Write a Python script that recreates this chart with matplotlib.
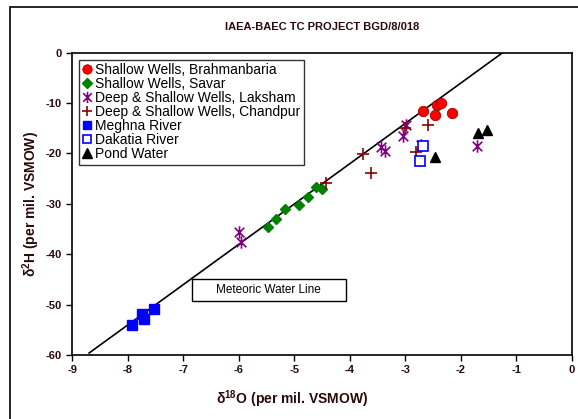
import matplotlib

matplotlib.use("Agg")
import matplotlib.pyplot as plt
from matplotlib.patches import Rectangle
from matplotlib.path import Path

plt.rcParams["font.family"] = ["Liberation Sans", "DejaVu Sans"]
plt.rcParams["axes.unicode_minus"] = False
plt.rcParams["mathtext.fontset"] = "custom"
plt.rcParams["mathtext.rm"] = "Liberation Sans"
plt.rcParams["mathtext.bf"] = "Liberation Sans:bold"

TEXT = "#2a0a0a"

# delta-18O / delta-2H pairs
brahmanbaria_x = [-2.68, -2.44, -2.36, -2.46, -2.16]
brahmanbaria_y = [-11.6, -10.4, -9.9, -12.4, -12.0]

savar_x = [-5.47, -5.34, -5.17, -4.92, -4.76, -4.61, -4.50]
savar_y = [-34.5, -33.1, -31.1, -30.3, -28.6, -26.7, -27.1]

laksham_x = [-2.99, -3.04, -3.45, -3.37, -2.72, -1.72, -6.00, -5.97]
laksham_y = [-14.3, -16.5, -18.8, -19.6, -18.3, -18.5, -35.5, -37.5]

chandpur_x = [-2.60, -3.00, -2.81, -3.76, -3.63, -4.43]
chandpur_y = [-14.3, -15.0, -19.8, -20.2, -23.8, -25.9]

meghna_x = [-7.93, -7.75, -7.72, -7.54]
meghna_y = [-54.0, -51.9, -52.8, -50.9]

dakatia_x = [-2.69, -2.73]
dakatia_y = [-18.5, -21.5]

pond_x = [-1.70, -1.53, -2.46]
pond_y = [-16.0, -15.4, -20.6]

# meteoric water line: dD = 8 * d18O + 10
mwl_x = [-8.7, -1.25]
mwl_y = [8 * v + 10 for v in mwl_x]

# Excel style "X with vertical bar" marker
star_marker = Path(
    [(-1, -1), (1, 1), (-1, 1), (1, -1), (0, -1.3), (0, 1.3)],
    [Path.MOVETO, Path.LINETO, Path.MOVETO, Path.LINETO, Path.MOVETO, Path.LINETO],
)

fig = plt.figure(figsize=(5.78, 4.19), dpi=100)
ax = fig.add_axes([0.1254, 0.1527, 0.8642, 0.7215])

# outer chart frame
fig.patches.append(
    Rectangle((10 / 578, -0.1), 1.2, 1 - 7 / 419 + 0.1, transform=fig.transFigure,
              fill=False, edgecolor="black", linewidth=1.2)
)

ax.plot(mwl_x, mwl_y, color="black", linewidth=1.2, zorder=1)

ax.plot(brahmanbaria_x, brahmanbaria_y, "o", ms=7.5, color="red",
        mec="#a00000", mew=0.6, label="Shallow Wells, Brahmanbaria")
ax.plot(savar_x, savar_y, "D", ms=5.5, color="green", mec="green",
        label="Shallow Wells, Savar")
ax.plot(laksham_x, laksham_y, ls="none", marker=star_marker, ms=9, color="purple",
        mew=1.2, label="Deep & Shallow Wells, Laksham")
ax.plot(chandpur_x, chandpur_y, "+", ms=8, color="#8b0000", mew=1.2,
        label="Deep & Shallow Wells, Chandpur")
ax.plot(meghna_x, meghna_y, "s", ms=7, color="blue", label="Meghna River")
ax.plot(dakatia_x, dakatia_y, "s", ms=7, mfc="white", mec="blue", mew=1.2,
        label="Dakatia River")
ax.plot(pond_x, pond_y, "^", ms=7.5, color="black", label="Pond Water")

ax.set_xlim(-9, 0)
ax.set_ylim(-60, 0)
ax.set_xticks(range(-9, 1))
ax.set_yticks(range(-60, 1, 10))
ax.tick_params(direction="out", length=4, width=1, labelsize=8, colors="black",
               labelcolor=TEXT)
for lab in ax.get_xticklabels() + ax.get_yticklabels():
    lab.set_fontweight("bold")
for side in ax.spines.values():
    side.set_linewidth(1.2)

ax.set_title("IAEA-BAEC TC PROJECT BGD/8/018", fontsize=8, fontweight="bold",
             color=TEXT, pad=16)
ax.set_xlabel(r"δ$^{\mathbf{18}}$O (per mil. VSMOW)", fontsize=10, fontweight="bold",
              color=TEXT, va="center")
ax.xaxis.set_label_coords(0.439, -0.146)
ax.set_ylabel(r"δ$^{\mathbf{2}}$H (per mil. VSMOW)", fontsize=10, fontweight="bold",
              color=TEXT, va="center")
ax.yaxis.set_label_coords(-0.083, 0.5)

leg = ax.legend(loc="upper left", fontsize=10, handlelength=0.6, handletextpad=0.3,
                labelspacing=0.0, borderpad=0.25, borderaxespad=0.5, frameon=True,
                fancybox=False, edgecolor="black", markerscale=0.9)
leg.get_frame().set_linewidth(1.0)

# label box for the meteoric water line
ax.add_patch(Rectangle((0.2386, 0.1796), 0.3084, 0.0708, transform=ax.transAxes,
                       facecolor="white", edgecolor="black", linewidth=1.0, zorder=3))
ax.text(0.3928, 0.215, "Meteoric Water Line", transform=ax.transAxes, fontsize=8.5,
        ha="center", va="center", zorder=4)

fig.savefig("out.png", dpi=100)
